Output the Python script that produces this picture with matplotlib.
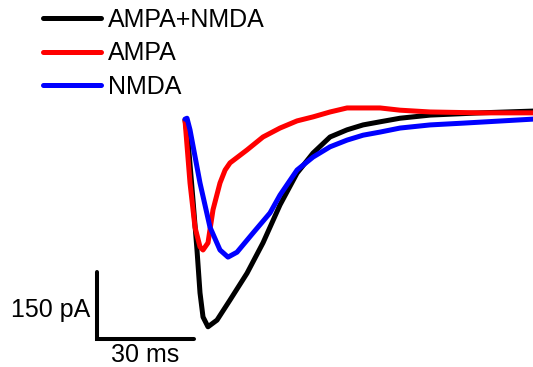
import matplotlib.pyplot as plt
import numpy as np

plt.rcParams['font.family'] = ['Liberation Sans', 'DejaVu Sans']

# traces: time (ms), current (pA)
t_both = [0, 0.93, 2.47, 3.71, 4.64, 5.57, 7.11, 9.90, 13.92, 19.18, 24.12, 29.38, 34.64,
          39.59, 44.85, 50.10, 55.05, 60.31, 66.49, 75.77, 91.24, 107.63]
i_both = [0, -45, -179, -291, -387, -441, -463, -448, -403, -343, -275, -190, -119,
          -74, -38, -22, -11, -4, 4, 11, 16, 20]

t_ampa = [0, 1.55, 3.09, 4.64, 5.57, 7.11, 8.66, 10.82, 12.4, 13.92, 19.18, 24.12, 29.38,
          34.64, 39.59, 44.85, 50.10, 60.31, 66.49, 75.77, 91.24, 107.63]
i_ampa = [0, -141, -240, -284, -291, -275, -201, -141, -112, -96, -67, -38, -18,
          -2, 7, 18, 27, 27, 22, 18, 16, 16]

t_nmda = [0, 0.62, 1.55, 4.64, 7.73, 10.82, 13.30, 16.08, 21.03, 26.29, 29.38, 34.64,
          39.59, 44.85, 50.10, 55.05, 60.31, 66.49, 75.77, 85.98, 107.63]
i_nmda = [2, 4, -22, -141, -240, -291, -307, -296, -253, -208, -168, -112,
          -83, -60, -45, -34, -27, -18, -11, -7, 2]

labels = ['AMPA+NMDA', 'AMPA', 'NMDA']
colors = ['#000000', '#ff0000', '#0000ff']

# scale bar sizes
bar_ms = 30
bar_pa = 150

fig = plt.figure(figsize=(5.33, 3.67), dpi=100)
ax = fig.add_axes([0, 0, 1, 1])
ax.set_xlim(-57.2, 107.6)
ax.set_ylim(-553.0, 268.7)
ax.axis('off')

for t, i, c, lab in zip([t_both, t_ampa, t_nmda], [i_both, i_ampa, i_nmda], colors, labels):
    ax.plot(t, i, color=c, lw=3.6, label=lab, solid_capstyle='round', solid_joinstyle='round')

# scale bar
x0, y0 = -27.2, -490.3
ax.plot([x0, x0, x0 + bar_ms], [y0 + bar_pa, y0, y0], color='black', lw=2.9,
        solid_capstyle='round', solid_joinstyle='miter')
ax.text(x0 - 2, y0 + bar_pa * 0.43, f'{bar_pa} pA', ha='right', va='center', fontsize=18)
ax.text(x0 + bar_ms / 2, y0 - 10, f'{bar_ms} ms', ha='center', va='top', fontsize=18)

ax.legend(loc='upper left', bbox_to_anchor=(43 / 533, 1 - 8 / 367), frameon=False,
          fontsize=18, handlelength=2.3, handletextpad=0.3, labelspacing=0.37,
          borderpad=0, borderaxespad=0)

fig.savefig('out.png', dpi=100)
